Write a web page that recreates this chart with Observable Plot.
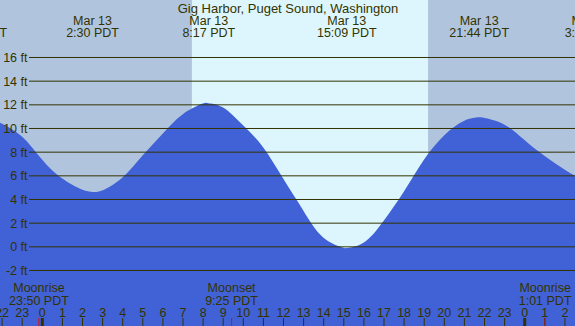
<!DOCTYPE html>
<html><head><meta charset="utf-8">
<script src="https://cdn.jsdelivr.net/npm/d3@7"></script>
<script src="https://cdn.jsdelivr.net/npm/@observablehq/plot@0.6"></script>
<style>html,body{margin:0;padding:0;background:#fff;overflow:hidden}</style>
</head><body><div id="chart"></div>
<script>
// ---- data ----
const title = "Gig Harbor, Puget Sound, Washington";
// hours relative to Mar 13 00:00 PDT, heights in feet
const tideHours   = [-2.2, -1, 0, 1, 2, 2.5, 3, 4, 5, 6, 7, 8, 8.28, 9, 10, 11, 12, 13, 14, 15, 15.15, 16, 17, 18, 19, 20, 21, 21.73, 22, 23, 24, 25, 26, 26.6];
const tideHeights = [10.55, 9.3, 7.35, 5.75, 4.8, 4.6, 4.72, 5.8, 7.65, 9.5, 11.15, 12.06, 12.1, 11.75, 10.25, 8.4, 5.75, 3.05, 0.75, -0.12, -0.15, 0.3, 2.15, 4.6, 7.3, 9.35, 10.6, 10.9, 10.86, 10.3, 9.0, 7.65, 6.5, 5.9];
const extremeDates = ["Mar 12", "Mar 13", "Mar 13", "Mar 13", "Mar 13", "Mar 14"];
const extremeTimes = ["20:46", "2:30", "8:17", "15:09", "21:44", "3:18"];
const extremeDayOffsets = [-1, 0, 0, 0, 0, 1];
const moonEvents = ["Moonrise", "Moonset", "Moonrise"];
const moonTimes = ["23:50", "9:25", "1:01"];
const moonDayOffsets = [-1, 0, 1];
const sunTimes = ["7:28", "19:13"];
const hourTicks = d3.range(-2, 27);
const heightTicks = [-2, 0, 2, 4, 6, 8, 10, 12, 14, 16];

// ---- helpers ----
const toHour = (t, off) => { const [h, m] = t.split(":").map(Number); return off * 24 + h + m / 60; };
const tide = tideHours.map((h, i) => ({h, v: tideHeights[i]}));
const extremes = extremeTimes.map((t, i) => ({h: toHour(t, extremeDayOffsets[i]), date: extremeDates[i], time: t + " PDT"}));
const moons = moonTimes.map((t, i) => ({h: toHour(t, moonDayOffsets[i]), name: moonEvents[i], time: t + " PDT"}));
const sun = {rise: toHour(sunTimes[0], 0), set: toHour(sunTimes[1], 0)};

const night = "#b0c4de", day = "#ddf6fd", water = "#4161d6", ink = "#333300";
const xDomain = [-2.0796, 26.527];
const yDomain = [-6.733, 20.817];
const F = 12.5;

const chart = Plot.plot({
  width: 575, height: 326,
  marginTop: 0, marginRight: 0, marginBottom: 0, marginLeft: 0,
  x: {domain: xDomain, axis: null},
  y: {domain: yDomain, axis: null},
  style: {background: night, color: ink, fontFamily: "'Liberation Sans', Arial, sans-serif", fontSize: F + "px"},
  marks: [
    Plot.rect([sun], {x1: "rise", x2: "set", fill: day}),
    Plot.areaY(tide, {x: "h", y1: yDomain[0], y2: "v", fill: water, curve: "natural"}),
    Plot.ruleY(heightTicks, {stroke: ink, strokeWidth: 1, insetLeft: 29}),
    Plot.text(heightTicks, {y: d => d, text: d => `${d} ft`, frameAnchor: "left", dx: 27, dy: 0.5, textAnchor: "end", fontSize: F}),
    Plot.text([title], {x: () => (xDomain[0] + xDomain[1]) / 2, text: d => d, frameAnchor: "top", lineAnchor: "bottom", dy: 12, fontSize: 13}),
    Plot.text(extremes, {x: "h", text: "date", frameAnchor: "top", lineAnchor: "bottom", dy: 24.5, fontSize: F}),
    Plot.text(extremes, {x: "h", text: "time", frameAnchor: "top", lineAnchor: "bottom", dy: 36, fontSize: F}),
    Plot.text(moons, {x: "h", text: "name", frameAnchor: "bottom", lineAnchor: "bottom", dy: -34.5, fontSize: F}),
    Plot.text(moons, {x: "h", text: "time", frameAnchor: "bottom", lineAnchor: "bottom", dy: -22, fontSize: F}),
    Plot.text(hourTicks, {x: d => d, text: d => String(((d % 24) + 24) % 24), frameAnchor: "bottom", lineAnchor: "bottom", dy: -10, fontSize: F}),
    Plot.ruleX(hourTicks.filter(d => d % 24 !== 0), {x: d => d, stroke: ink, strokeWidth: 1, insetTop: 318}),
    Plot.ruleX(hourTicks.filter(d => d % 24 === 0), {x: d => d, stroke: ink, strokeWidth: 3, insetTop: 318}),
    Plot.ruleX(moons, {x: "h", stroke: "#ff0000", strokeWidth: 1, insetTop: 318})
  ]
});
document.getElementById("chart").appendChild(chart);
</script>
</body></html>
